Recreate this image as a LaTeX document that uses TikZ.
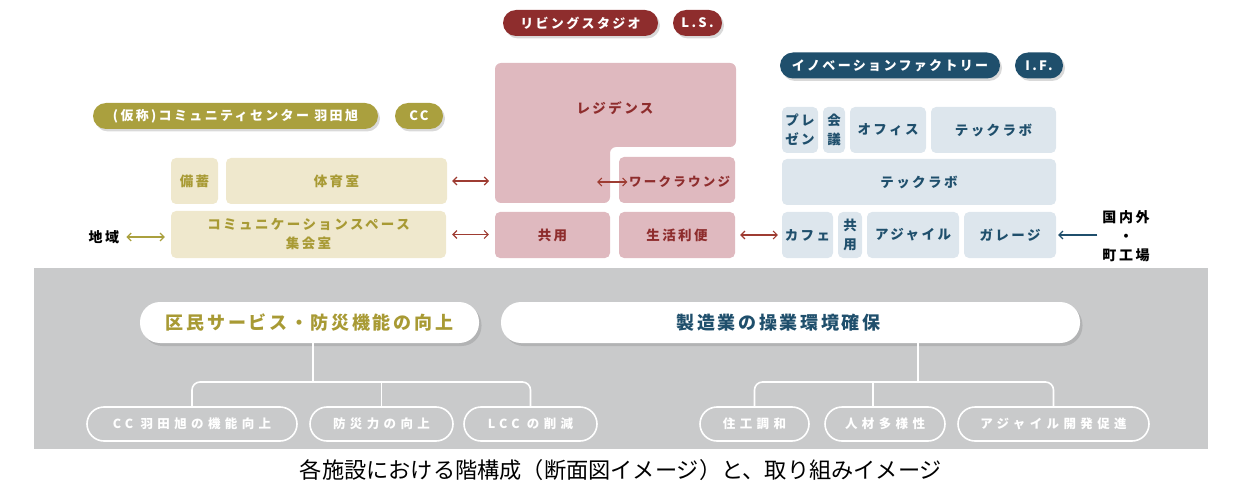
\documentclass[tikz,border=0pt]{standalone}
\usepackage{fontspec}
\setmainfont{Noto Sans CJK JP}
\newfontfamily\lbl{Noto Sans CJK JP}[LetterSpace=18]
\newfontfamily\lblbig{Noto Sans CJK JP}[LetterSpace=15]
\newfontfamily\lblwide{Noto Sans CJK JP}[LetterSpace=35]
\usepackage{tikz}
\usetikzlibrary{arrows.meta,shadows}
\definecolor{lsred}{RGB}{142,45,45}
\definecolor{lspink}{RGB}{223,185,191}
\definecolor{lsarrow}{RGB}{158,60,50}
\definecolor{ccolive}{RGB}{170,160,62}
\definecolor{ccbeige}{RGB}{239,232,205}
\definecolor{cctext}{RGB}{168,154,52}
\definecolor{ifblue}{RGB}{31,79,108}
\definecolor{iflight}{RGB}{221,230,237}
\definecolor{panelgray}{RGB}{201,202,203}

\begin{document}
\begin{tikzpicture}[
      x=1pt, y=-1pt,
      pill/.style={rounded corners=13pt, minimum height=26pt, inner sep=0pt, text=white, font=\lbl\bfseries\fontsize{13}{16}\selectfont, drop shadow={shadow xshift=2pt, shadow yshift=-2.5pt, opacity=0.3}},
      room/.style={rounded corners=5pt, inner sep=0pt, minimum height=46pt, align=center, font=\lbl\bfseries\fontsize{13.5}{19}\selectfont},
      goal/.style={fill=white, rounded corners=20pt, minimum height=41pt, inner sep=0pt, font=\lblbig\bfseries\fontsize{18}{20}\selectfont, drop shadow={shadow xshift=2.5pt, shadow yshift=-3pt, opacity=0.3}},
      aim/.style={draw=white, line width=1.6pt, rounded corners=17pt, minimum height=34pt, inner sep=0pt, text=white, font=\lblwide\bfseries\fontsize{12.5}{14}\selectfont},
      link/.style={{Straight Barb[length=4pt,width=8pt]}-{Straight Barb[length=4pt,width=8pt]}, line width=1.1pt},
      tree/.style={white, line width=1.6pt, rounded corners=8pt}
    ]
      \useasboundingbox (0,0) rectangle (1239,497);
      \fill[panelgray] (34,268) rectangle (1208,449);

      \node[pill, fill=lsred, minimum width=155pt] (ls) at (580.5,23) {リビングスタジオ};
      \node[pill, fill=lsred, minimum width=49pt] (lsabbr) at (697.5,23) {L.S.};
      \node[pill, fill=ccolive, minimum width=285pt] (cc) at (235.5,116) {(仮称)コミュニティセンター 羽田旭};
      \node[pill, fill=ccolive, minimum width=48pt] (ccabbr) at (419,116) {CC};
      \node[pill, fill=ifblue, minimum width=220pt] (if) at (890,65.5) {イノベーションファクトリー};
      \node[pill, fill=ifblue, minimum width=48pt] (ifabbr) at (1039,65.5) {I.F.};

      \node[room, fill=ccbeige, text=cctext, minimum width=47pt] (bichiku) at (194.5,181) {備蓄};
      \node[room, fill=ccbeige, text=cctext, minimum width=221pt] (taiiku) at (336.5,181) {体育室};
      \node[room, fill=ccbeige, text=cctext, minimum width=275pt, minimum height=47pt] (commu) at (308.5,234.5) {コミュニケーションスペース\\集会室};
      \node[font=\lbl\bfseries\fontsize{14}{16}\selectfont, inner sep=0pt] (chiiki) at (104,237) {地域};

      \fill[lspink, rounded corners=6pt] (615,63) -- (736,63) -- (736,147) -- (610,147) -- (610,203) -- (495,203) -- (495,63) -- cycle;
      \node[text=lsred, font=\lbl\bfseries\fontsize{13.5}{16}\selectfont] (resid) at (615,108) {レジデンス};
      \coordinate (resw) at (495,150);
      \coordinate (resin) at (597,182);
      \node[room, fill=lspink, minimum width=116pt] (lounge) at (677,180) {};
      \node[text=lsred, font=\lbl\bfseries\fontsize{12.5}{16}\selectfont, inner sep=0pt] (loungetxt) at (679.5,182) {ワークラウンジ};
      \node[room, fill=lspink, text=lsred, minimum width=115pt] (kyoyo) at (552.5,235) {共用};
      \node[room, fill=lspink, text=lsred, minimum width=116pt] (seikatsu) at (677,235) {生活利便};

      \node[room, fill=iflight, text=ifblue, minimum width=36pt] (prezen) at (800,130) {プレ\\ゼン};
      \node[room, fill=iflight, text=ifblue, minimum width=22pt] (kaigi) at (834,130) {会\\議};
      \node[room, fill=iflight, text=ifblue, minimum width=76pt] (office) at (888,130) {オフィス};
      \node[room, fill=iflight, text=ifblue, minimum width=125pt] (techtop) at (993.5,130) {テックラボ};
      \node[room, fill=iflight, text=ifblue, minimum width=274pt] (techlab) at (919,182) {テックラボ};
      \node[room, fill=iflight, text=ifblue, minimum width=51pt] (cafe) at (807.5,235) {カフェ};
      \node[room, fill=iflight, text=ifblue, minimum width=24pt] (kyoyoif) at (850,235) {共\\用};
      \node[room, fill=iflight, text=ifblue, minimum width=92pt] (agile) at (913,235) {アジャイル};
      \node[room, fill=iflight, text=ifblue, minimum width=92pt] (garage) at (1010,235) {ガレージ};
      \node[align=center, inner sep=0pt, font=\lbl\bfseries\fontsize{14}{19}\selectfont] (kokunai) at (1126,236) {国内外\\・\\町工場};

      \draw[link, lsarrow, shorten <=5pt, shorten >=6pt] (taiiku.east) -- (taiiku.east -| resw);
      \draw[link, lsarrow, shorten <=6pt, shorten >=6pt] (commu.east) -- (commu.east -| kyoyo.west);
      \draw[link, lsarrow, shorten <=5pt, shorten >=4pt] (seikatsu.east) -- (seikatsu.east -| cafe.west);
      \draw[link, lsarrow, shorten >=1.5pt] (resin) -- (loungetxt.west);
      \draw[link, ccolive, shorten <=7pt, shorten >=6pt] (chiiki.east) -- (chiiki.east -| commu.west);
      \draw[-{Straight Barb[length=4pt,width=8pt]}, line width=1.1pt, ifblue, shorten <=5pt, shorten >=2pt] (garage.east -| kokunai.west) -- (garage.east);

      \node[goal, text=cctext, minimum width=339pt] (kumin) at (309.5,322.5) {区民サービス・防災機能の向上};
      \node[goal, text=ifblue, minimum width=579pt] (seizo) at (790.5,322.5) {製造業の操業環境確保\hspace*{24pt}};

      \node[aim, minimum width=210pt] (ccfunc) at (192,424) {CC 羽田旭の機能向上};
      \node[aim, minimum width=143pt] (bousai) at (381.5,424) {防災力の向上};
      \node[aim, minimum width=133pt] (lcc) at (530.5,424) {LCC の削減};
      \node[aim, minimum width=109pt] (jyuko) at (754.5,424) {住工調和};
      \node[aim, minimum width=120pt] (jinzai) at (885,424) {人材多様性};
      \node[aim, minimum width=191pt] (agiledev) at (1053.5,424) {アジャイル開発促進};

      \coordinate (kbar) at (313,382);
      \coordinate (mbar) at (918,382);
      \draw[tree] (ccfunc.north) |- (kbar -| lcc.north) -- (lcc.north);
      \draw[tree] (kumin.south -| kbar) -- (kbar);
      \draw[tree] (bousai.north) -- (bousai.north |- kbar);
      \draw[tree] (jyuko.north) |- (mbar -| agiledev.north) -- (agiledev.north);
      \draw[tree] (seizo.south -| mbar) -- (mbar);
      \draw[tree] ([xshift=-12pt]jinzai.north) -- ([xshift=-12pt]jinzai.north |- mbar);

      \node[font=\fontsize{22.2}{26}\selectfont] (caption) at (621,470) {各施設における階構成（断面図イメージ）と、取り組みイメージ};
    \end{tikzpicture}
\end{document}
